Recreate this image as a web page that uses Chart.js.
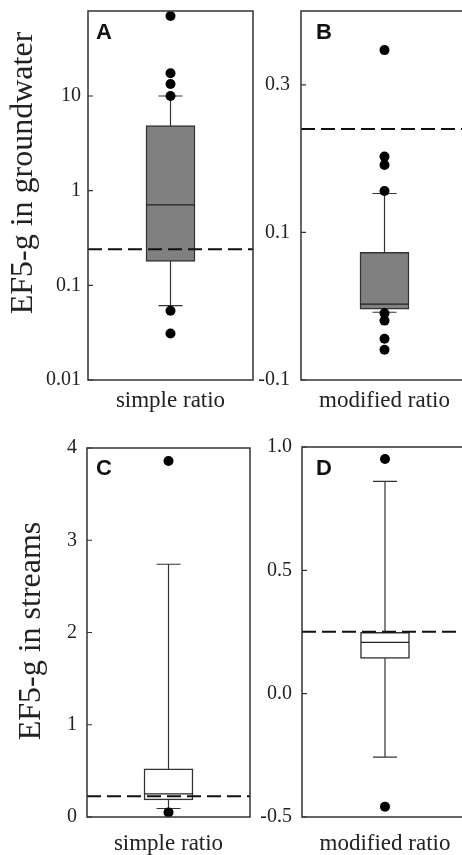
<!DOCTYPE html>
<html>
<head>
<meta charset="utf-8">
<script src="https://cdn.jsdelivr.net/npm/chart.js@4.4.1/dist/chart.umd.min.js"></script>
<style>
  html, body { margin: 0; padding: 0; background: #fff; overflow: hidden; width: 462px; height: 855px; }
  canvas { position: absolute; }
</style>
</head>
<body>
<canvas id="chartA" width="260" height="420" style="left:0;top:0"></canvas>
<canvas id="chartB" width="235" height="420" style="left:240px;top:0"></canvas>
<canvas id="chartC" width="260" height="435" style="left:0;top:420px"></canvas>
<canvas id="chartD" width="235" height="435" style="left:240px;top:420px"></canvas>
<script>
// categories
const topLeftLabel = 'simple ratio';
const topRightLabel = 'modified ratio';

// box stats: [lower whisker, q1, median, q3, upper whisker]
const statsA = [0.061, 0.179, 0.707, 4.87, 10];
const outliersA = [70, 17.4, 13.4, 10, 0.054, 0.031];
const refA = 0.24;

const statsB = [-0.0082, -0.004, 0.0027, 0.073, 0.1527];
const outliersB = [0.347, 0.2027, 0.1914, 0.156, -0.0095, -0.0195, -0.0442, -0.059];
const refB = 0.24;

const statsC = [0.092, 0.185, 0.25, 0.523, 2.74];
const outliersC = [3.86, 0.05];
const refC = 0.225;

const statsD = [-0.257, 0.143, 0.208, 0.249, 0.861];
const outliersD = [0.951, -0.458];
const refD = 0.251;

// tick values
const ticksA = [0.01, 0.1, 1, 10];
const ticksB = [-0.1, 0.1, 0.3];
const ticksC = [0, 1, 2, 3, 4];
const ticksD = [-0.5, 0, 0.5, 1.0];

const serif = "'Liberation Serif', 'Times New Roman', serif";
const ink = '#222';

// whiskers, median, reference line, frame, letters, side title
const boxPlugin = {
  id: 'boxDecor',
  beforeDatasetsDraw(chart, args, o) {
    const ctx = chart.ctx;
    const x = chart.scales.x.getPixelForValue(0);
    const y = chart.scales.y;
    ctx.save();
    ctx.strokeStyle = '#333';
    ctx.lineWidth = 1.2;
    ctx.beginPath();
    ctx.moveTo(x, y.getPixelForValue(o.stats[0]));
    ctx.lineTo(x, y.getPixelForValue(o.stats[4]));
    [o.stats[0], o.stats[4]].forEach(v => {
      const py = y.getPixelForValue(v);
      ctx.moveTo(x - 12, py);
      ctx.lineTo(x + 12, py);
    });
    ctx.stroke();
    ctx.restore();
  },
  afterDatasetDraw(chart, args, o) {
    if (args.index !== 0) return;
    const ctx = chart.ctx;
    const area = chart.chartArea;
    const x = chart.scales.x.getPixelForValue(0);
    const y = chart.scales.y;
    ctx.save();
    // median
    ctx.strokeStyle = '#222';
    ctx.lineWidth = 1.2;
    ctx.beginPath();
    const pm = y.getPixelForValue(o.stats[2]);
    ctx.moveTo(x - 24, pm);
    ctx.lineTo(x + 24, pm);
    ctx.stroke();
    // dashed reference line
    ctx.strokeStyle = '#111';
    ctx.lineWidth = 2;
    ctx.setLineDash([14, 6]);
    const pr = y.getPixelForValue(o.ref);
    ctx.beginPath();
    ctx.moveTo(area.left, pr);
    ctx.lineTo(area.right, pr);
    ctx.stroke();
    ctx.restore();
  },
  afterDraw(chart, args, o) {
    const ctx = chart.ctx;
    const area = chart.chartArea;
    const y = chart.scales.y;
    ctx.save();
    ctx.strokeStyle = '#333';
    ctx.lineWidth = 1.5;
    ctx.strokeRect(area.left, area.top, area.right - area.left, area.bottom - area.top);
    // tick marks
    ctx.lineWidth = 1.2;
    ctx.beginPath();
    y.ticks.forEach(t => {
      const py = y.getPixelForValue(t.value);
      ctx.moveTo(area.left, py);
      ctx.lineTo(area.left + o.tickLen, py);
    });
    ctx.stroke();
    // panel letter
    ctx.fillStyle = '#111';
    ctx.font = "bold 22px 'Liberation Sans', Arial, sans-serif";
    ctx.textBaseline = 'alphabetic';
    ctx.textAlign = 'left';
    ctx.fillText(o.letter, area.left + o.letterX, area.top + o.letterY);
    // side title
    if (o.title) {
      ctx.translate(o.titleX, o.titleY);
      ctx.rotate(-Math.PI / 2);
      ctx.textAlign = 'center';
      ctx.fillStyle = ink;
      ctx.font = '32px ' + serif;
      ctx.fillText(o.title, 0, 0);
    }
    ctx.restore();
  }
};

function makePanel(id, cfg) {
  const label = cfg.label;
  return new Chart(document.getElementById(id), {
    type: 'bar',
    data: {
      labels: [label],
      datasets: [
        {
          type: 'bar',
          data: [[cfg.stats[1], cfg.stats[3]]],
          backgroundColor: cfg.fill,
          borderColor: '#333',
          borderWidth: 1.5,
          borderSkipped: false,
          barThickness: 49,
          order: 2
        },
        {
          type: 'line',
          data: cfg.outliers.map(v => ({ x: label, y: v })),
          showLine: false,
          pointRadius: 5,
          pointBackgroundColor: '#000',
          pointBorderWidth: 0,
          order: 1
        }
      ]
    },
    options: {
      responsive: false,
      devicePixelRatio: 1,
      animation: false,
      layout: { padding: { top: cfg.top, right: cfg.right, left: 0, bottom: 0 } },
      plugins: {
        legend: { display: false },
        tooltip: { enabled: false },
        boxDecor: {
          stats: cfg.stats, ref: cfg.ref, letter: cfg.letter,
          letterX: cfg.letterX, letterY: cfg.letterY,
          title: cfg.title, titleX: cfg.titleX, titleY: cfg.titleY,
          tickLen: 5
        }
      },
      scales: {
        x: {
          type: 'category',
          grid: { display: false, drawTicks: false },
          border: { display: false },
          ticks: { color: ink, padding: cfg.xPad, font: { family: serif, size: 23 } },
          afterFit: s => {
            s.height = cfg.xHeight;
            s.paddingLeft = 0;
            s.paddingRight = 0;
          }
        },
        y: {
          type: cfg.log ? 'logarithmic' : 'linear',
          min: cfg.min,
          max: cfg.max,
          grid: { display: false, drawTicks: false },
          border: { display: false },
          ticks: {
            color: ink,
            padding: cfg.yPad,
            font: { family: serif, size: 20 },
            callback: cfg.fmt
          },
          afterBuildTicks: s => { s.ticks = cfg.ticks.map(v => ({ value: v })); },
          afterFit: s => {
            s.width = cfg.yWidth;
            s.paddingTop = 0;
            s.paddingBottom = 0;
          }
        }
      }
    },
    plugins: [boxPlugin]
  });
}

makePanel('chartA', {
  label: topLeftLabel, stats: statsA, outliers: outliersA, ref: refA, ticks: ticksA,
  log: true, min: 0.01, max: 79, fmt: v => String(v), fill: '#808080',
  letter: 'A', letterX: 8, letterY: 28,
  title: 'EF5-g in groundwater', titleX: 32, titleY: 173,
  top: 11, right: 7, yWidth: 88, xHeight: 40, xPad: 7, yPad: 7
});
makePanel('chartB', {
  label: topRightLabel, stats: statsB, outliers: outliersB, ref: refB, ticks: ticksB,
  log: false, min: -0.1, max: 0.4, fmt: v => v.toFixed(1), fill: '#808080',
  letter: 'B', letterX: 15, letterY: 28,
  top: 11, right: 7, yWidth: 61, xHeight: 40, xPad: 7, yPad: 11
});
makePanel('chartC', {
  label: topLeftLabel, stats: statsC, outliers: outliersC, ref: refC, ticks: ticksC,
  log: false, min: 0, max: 4, fmt: v => String(v), fill: '#ffffff',
  letter: 'C', letterX: 9, letterY: 27,
  title: 'EF5-g in streams', titleX: 40, titleY: 211,
  top: 28, right: 10, yWidth: 87, xHeight: 38, xPad: 13, yPad: 10
});
makePanel('chartD', {
  label: topRightLabel, stats: statsD, outliers: outliersD, ref: refD, ticks: ticksD,
  log: false, min: -0.5, max: 1.0, fmt: v => v.toFixed(1), fill: '#ffffff',
  letter: 'D', letterX: 14, letterY: 28,
  top: 27, right: 7, yWidth: 62, xHeight: 38, xPad: 13, yPad: 10
});
</script>
</body>
</html>
